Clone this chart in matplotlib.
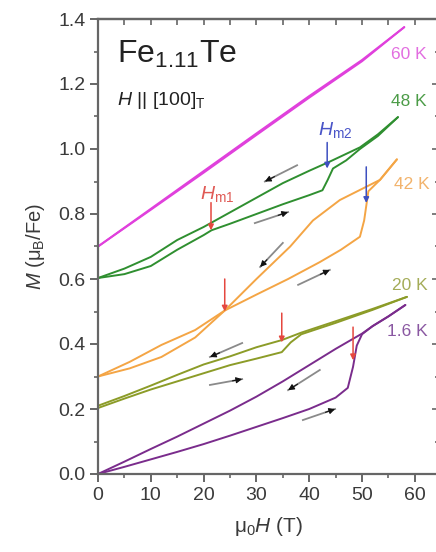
import matplotlib.pyplot as plt
import numpy as np
from matplotlib.ticker import MultipleLocator

plt.rcParams['font.family'] = ['Liberation Sans', 'DejaVu Sans']
plt.rcParams['mathtext.fontset'] = 'custom'
plt.rcParams['mathtext.rm'] = 'Liberation Sans'
plt.rcParams['mathtext.it'] = 'Liberation Sans:italic'
plt.rcParams['mathtext.bf'] = 'Liberation Sans:bold'

# M(H) loops, up sweep and down sweep for each temperature
H_60_up = [0, 10, 20, 30, 40, 50, 58]
M_60_up = [0.700, 0.813, 0.927, 1.043, 1.158, 1.270, 1.375]
H_60_dn = [58, 50, 40, 30, 20, 10, 0]
M_60_dn = [1.375, 1.274, 1.163, 1.048, 0.932, 0.816, 0.700]

H_48_up = [0, 5, 10, 15, 20, 21.5, 25, 30, 35, 40, 42.5, 43.5, 44.5, 47, 49.6, 53, 56.8]
M_48_up = [0.603, 0.615, 0.640, 0.690, 0.735, 0.750, 0.770, 0.800, 0.830, 0.858, 0.873,
           0.905, 0.940, 0.965, 1.000, 1.040, 1.098]
H_48_dn = [56.8, 53, 49.6, 44, 40, 35, 30, 25, 20, 15, 10, 5, 0]
M_48_dn = [1.098, 1.045, 1.005, 0.962, 0.933, 0.895, 0.850, 0.805, 0.760, 0.720, 0.668, 0.632, 0.603]

H_42_up = [0, 6, 12, 18.4, 24, 30, 36, 42, 46, 49.6, 50.4, 51.2, 53.4, 56.6]
M_42_up = [0.300, 0.345, 0.397, 0.443, 0.503, 0.552, 0.600, 0.652, 0.690, 0.730, 0.780,
           0.870, 0.905, 0.968]
H_42_dn = [56.6, 53.4, 49.6, 45.8, 40.7, 36.4, 30, 24, 18.4, 12, 6, 0]
M_42_dn = [0.968, 0.905, 0.874, 0.843, 0.780, 0.700, 0.600, 0.503, 0.420, 0.360, 0.325, 0.300]

H_20_up = [0, 5, 10, 15, 20, 25, 30, 34.8, 36.5, 38.5, 45, 52, 58.5]
M_20_up = [0.203, 0.232, 0.260, 0.285, 0.310, 0.335, 0.355, 0.375, 0.405, 0.430, 0.465, 0.505, 0.545]
H_20_dn = [58.5, 52, 45, 38.5, 34.8, 30, 25, 20, 15, 10, 5, 0]
M_20_dn = [0.545, 0.508, 0.470, 0.435, 0.412, 0.390, 0.362, 0.337, 0.305, 0.272, 0.240, 0.210]

H_16_up = [0, 5, 10, 15, 20, 25, 30, 35, 40, 45, 47.3, 48.3, 49, 50, 52, 55, 58.2]
M_16_up = [0.0, 0.022, 0.045, 0.068, 0.092, 0.118, 0.145, 0.172, 0.200, 0.235, 0.265,
           0.330, 0.395, 0.430, 0.455, 0.485, 0.520]
H_16_dn = [58.2, 55, 52, 50, 45, 40, 35, 30, 25, 20, 15, 10, 5, 0]
M_16_dn = [0.520, 0.485, 0.455, 0.432, 0.385, 0.335, 0.285, 0.238, 0.195, 0.155, 0.115,
           0.077, 0.038, 0.0]

temps = ['60 K', '48 K', '42 K', '20 K', '1.6 K']
line_colors = ['#e040dc', '#2f8f30', '#f4a545', '#8c9c28', '#7a2c8c']
label_colors = ['#e26ee0', '#4c9c48', '#f2b36c', '#a4ac58', '#8a58a2']
label_pos = [(58.9, 1.29), (58.9, 1.145), (59.5, 0.892), (59.1, 0.58), (58.5, 0.44)]

# sweep direction arrows: (start, end)
sweep_arrows = [
    ((37.7, 0.950), (31.6, 0.900)),
    ((29.7, 0.772), (36.0, 0.806)),
    ((35.0, 0.711), (30.7, 0.637)),
    ((37.9, 0.582), (43.9, 0.628)),
    ((27.3, 0.403), (21.2, 0.360)),
    ((21.2, 0.274), (27.3, 0.292)),
    ((42.0, 0.320), (36.0, 0.258)),
    ((38.8, 0.166), (44.9, 0.200)),
]

# metamagnetic transition markers: (H, top M, tip M, colour)
red = '#e5473f'
blue = '#3d4fc0'
hm_arrows = [
    (21.4, 0.835, 0.750, red),
    (43.4, 1.020, 0.940, blue),
    (24.0, 0.600, 0.500, red),
    (50.8, 0.945, 0.834, blue),
    (34.8, 0.495, 0.405, red),
    (48.3, 0.452, 0.350, red),
]

fig = plt.figure(figsize=(4.36, 5.52), dpi=100)
ax = fig.add_axes([98 / 436, 78 / 552, 340.6 / 436, 455 / 552])

loops = [(H_60_up, M_60_up, H_60_dn, M_60_dn),
         (H_48_up, M_48_up, H_48_dn, M_48_dn),
         (H_42_up, M_42_up, H_42_dn, M_42_dn),
         (H_20_up, M_20_up, H_20_dn, M_20_dn),
         (H_16_up, M_16_up, H_16_dn, M_16_dn)]
for (hu, mu, hd, md), c in zip(loops, line_colors):
    ax.plot(hu, mu, color=c, lw=1.4, solid_capstyle='round')
    ax.plot(hd, md, color=c, lw=1.4, solid_capstyle='round')

for t, c, (x, y) in zip(temps, label_colors, label_pos):
    ax.text(x, y, t, color=c, fontsize=12.5, ha='center', va='center')

for (x0, y0), (x1, y1) in sweep_arrows:
    ax.plot([x0, x1], [y0, y1], color='#8a8a8a', lw=1.3)
    xm = x0 + 0.7 * (x1 - x0)
    ym = y0 + 0.7 * (y1 - y0)
    ax.annotate('', xy=(x1, y1), xytext=(xm, ym),
                arrowprops=dict(arrowstyle='-|>', color='#111111', lw=0.8,
                                mutation_scale=9, shrinkA=0, shrinkB=0))

for h, top, tip, c in hm_arrows:
    ax.annotate('', xy=(h, tip), xytext=(h, top),
                arrowprops=dict(arrowstyle='-|>', color=c, lw=1.1,
                                mutation_scale=8, shrinkA=0, shrinkB=0))

ax.text(22.5, 0.86, r'$H_{\rm m1}$', color='#e05a55', fontsize=14, ha='center', va='center')
ax.text(45.0, 1.06, r'$H_{\rm m2}$', color='#4a55c8', fontsize=14, ha='center', va='center')

ax.text(3.6, 1.29, r'Fe$_{1.11}$Te', fontsize=23, color='#222222', va='center')
ax.text(3.6, 1.148, r'$H$ || [100]$_{\rm T}$', fontsize=14, color='#222222', va='center')

ax.set_xlim(0, 64.5)
ax.set_ylim(0, 1.4)
ax.xaxis.set_major_locator(MultipleLocator(10))
ax.xaxis.set_minor_locator(MultipleLocator(5))
ax.yaxis.set_major_locator(MultipleLocator(0.2))
ax.yaxis.set_minor_locator(MultipleLocator(0.1))
ax.yaxis.set_major_formatter(plt.FormatStrFormatter('%.1f'))

spine_c = '#666666'
for s in ax.spines.values():
    s.set_color(spine_c)
    s.set_linewidth(1.6)
ax.tick_params(which='major', direction='out', length=6, width=1.4, color=spine_c,
               labelsize=14, labelcolor='#3a3a3a', pad=3)
ax.tick_params(which='minor', direction='out', length=3, width=1.2, color=spine_c)

# inward ticks on the top and right frame
top = ax.secondary_xaxis('top')
top.xaxis.set_major_locator(MultipleLocator(10))
top.xaxis.set_minor_locator(MultipleLocator(5))
top.tick_params(which='both', direction='in', length=4, width=1.2, color=spine_c, labeltop=False)
right = ax.secondary_yaxis('right')
right.yaxis.set_major_locator(MultipleLocator(0.2))
right.yaxis.set_minor_locator(MultipleLocator(0.1))
right.tick_params(which='major', direction='in', length=5, width=1.2, color=spine_c, labelright=False)
right.tick_params(which='minor', direction='in', length=3, width=1.2, color=spine_c)
for sa in (top, right):
    for s in sa.spines.values():
        s.set_color(spine_c)
        s.set_linewidth(1.6)

ax.set_xlabel(r'$\mathrm{\mu_0}H$ (T)', fontsize=15, color='#3a3a3a', labelpad=8)
ax.set_ylabel(r'$M$ ($\mathrm{\mu_B}$/Fe)', fontsize=14.5, color='#3a3a3a', labelpad=8)

fig.savefig('out.png', dpi=100)
